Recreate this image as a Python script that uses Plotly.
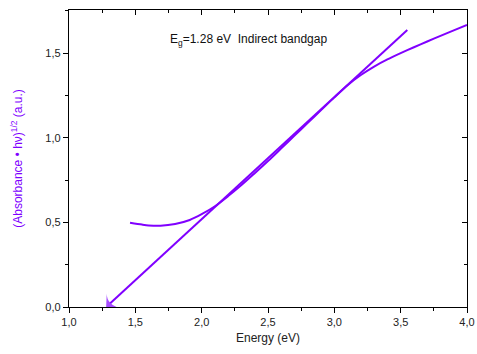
import plotly.graph_objects as go

# Data
energy = [1.46, 1.55, 1.60, 1.69, 1.80, 1.91, 2.00, 2.10, 2.20, 2.30, 2.40, 2.50,
          2.60, 2.70, 2.80, 2.90, 3.00, 3.10, 3.20, 3.30, 3.40, 3.50, 3.60, 3.70,
          3.80, 3.90, 4.00]
absorbance = [0.498, 0.487, 0.482, 0.480, 0.490, 0.514, 0.548, 0.595, 0.655, 0.720,
              0.790, 0.862, 0.937, 1.012, 1.088, 1.163, 1.238, 1.310, 1.370, 1.420,
              1.462, 1.499, 1.534, 1.568, 1.601, 1.634, 1.666]
fit_x = [3.55, 1.28]
fit_y = [1.636, 0.0]

purple = "#8000ff"
font = "Liberation Sans, Arial, sans-serif"

fig = go.Figure()
fig.add_trace(go.Scatter(x=energy, y=absorbance, mode="lines",
                         line=dict(color=purple, width=2, shape="spline", smoothing=0.8),
                         showlegend=False, hoverinfo="skip"))
fig.add_trace(go.Scatter(x=fit_x, y=fit_y, mode="lines+markers",
                         line=dict(color=purple, width=2),
                         marker=dict(symbol=["circle", "arrow-wide"], size=[0, 14],
                                     angleref="previous", color=purple,
                                     line=dict(width=0)),
                         showlegend=False, hoverinfo="skip"))
# invisible trace for mirrored axes
fig.add_trace(go.Scatter(x=[1.0], y=[0.0], xaxis="x2", yaxis="y2", mode="markers",
                         marker=dict(opacity=0), showlegend=False, hoverinfo="skip"))

axis_common = dict(showgrid=False, zeroline=False, showline=True, linecolor="black",
                   linewidth=1.3, tickcolor="black", tickwidth=1, automargin=False,
                   tickfont=dict(family=font, size=11, color="#222"))

fig.update_layout(
    width=477, height=354,
    margin=dict(l=69, r=10, t=10, b=47),
    plot_bgcolor="white", paper_bgcolor="white",
    separators=",.",
    xaxis=dict(range=[1.0, 4.0], dtick=0.5, tick0=1.0, tickformat=".1f",
               ticks="outside", ticklen=5,
               minor=dict(dtick=0.25, ticks="outside", ticklen=3, tickcolor="black"),
               title=dict(text="Energy (eV)", font=dict(family=font, size=12, color="#222"),
                          standoff=6),
               **axis_common),
    yaxis=dict(range=[0.0, 1.754], dtick=0.5, tick0=0.0, tickformat=".1f",
               ticks="outside", ticklen=5,
               minor=dict(dtick=0.25, ticks="outside", ticklen=3, tickcolor="black"),
               title=dict(text="(Absorbance • hν)<sup>1/2</sup> (a.u.)",
                          font=dict(family=font, size=12, color=purple), standoff=20),
               **axis_common),
    xaxis2=dict(range=[1.0, 4.0], overlaying="x", side="top", dtick=0.5, tick0=1.0,
                ticks="inside", ticklen=5, showticklabels=False,
                minor=dict(dtick=0.25, ticks="inside", ticklen=3, tickcolor="black"),
                **axis_common),
    yaxis2=dict(range=[0.0, 1.754], overlaying="y", side="right", dtick=0.5, tick0=0.0,
                ticks="inside", ticklen=5, showticklabels=False,
                minor=dict(dtick=0.25, ticks="inside", ticklen=3, tickcolor="black"),
                **axis_common),
    annotations=[dict(x=2.35, y=1.575, xref="x", yref="y", showarrow=False,
                      text="E<sub>g</sub>=1.28 eV  Indirect bandgap",
                      font=dict(family=font, size=12, color="#111"))],
)

fig.write_html("out.html", config={"displayModeBar": False},
               post_script="document.body.style.margin='0';")
